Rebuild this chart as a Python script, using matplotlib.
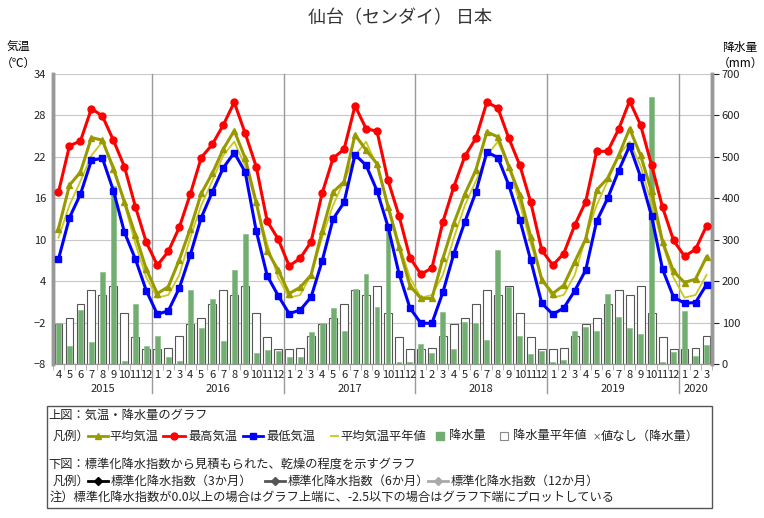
import numpy as np
import matplotlib
matplotlib.use('Agg')
import matplotlib.pyplot as plt
from matplotlib.patches import Rectangle

plt.rcParams['font.family'] = ['Noto Sans CJK JP', 'DejaVu Sans']

# 2015年4月〜2020年3月 仙台の月別値
months = [4, 5, 6, 7, 8, 9, 10, 11, 12] + list(range(1, 13)) * 4 + [1, 2, 3]
years = ['2015', '2016', '2017', '2018', '2019', '2020']
year_months = [9, 12, 12, 12, 12, 3]  # 各年の月数

t_mean = [11.6, 17.9, 19.8, 24.8, 24.4, 20.3, 15.5, 10.7, 5.7,
          2.2, 3.2, 7.1, 11.6, 16.7, 19.6, 23.1, 25.8, 21.8, 15.4, 8.4, 5.6,
          2.2, 3.1, 4.9, 11.2, 16.9, 18.4, 25.2, 23.0, 21.0, 14.8, 9.0, 3.3,
          1.5, 1.5, 7.3, 12.4, 16.6, 20.1, 25.6, 24.9, 20.6, 16.5, 10.4, 4.2,
          2.2, 3.4, 6.8, 10.1, 17.2, 18.9, 22.2, 26.1, 22.2, 17.0, 9.7, 5.4,
          3.8, 4.3, 7.5]
t_max = [16.9, 23.6, 24.3, 29.0, 27.9, 24.4, 20.6, 14.8, 9.6,
         6.3, 8.3, 11.8, 16.6, 21.9, 23.8, 26.6, 29.9, 25.4, 20.6, 12.7, 10.1,
         6.2, 7.3, 9.7, 16.7, 21.8, 23.1, 29.4, 26.1, 25.7, 18.6, 13.5, 7.4,
         5.0, 5.9, 12.6, 17.7, 22.1, 24.7, 29.9, 29.1, 24.7, 20.8, 15.4, 8.5,
         6.3, 8.0, 12.1, 15.5, 22.8, 22.8, 26.0, 30.1, 26.6, 20.8, 14.7, 9.9,
         7.6, 8.6, 12.0]
t_min = [7.2, 13.2, 16.6, 21.5, 21.8, 17.1, 11.1, 7.2, 2.6,
         -0.8, -0.3, 3.0, 7.8, 13.2, 16.9, 20.4, 22.6, 19.8, 11.3, 4.8, 1.9,
         -0.7, -0.2, 1.7, 6.9, 13.0, 15.4, 22.3, 20.8, 17.1, 11.9, 5.1, 0.1,
         -2.1, -2.1, 2.4, 8.0, 12.6, 16.9, 22.7, 21.9, 17.9, 12.9, 7.0, 0.8,
         -0.8, 0.1, 2.6, 5.6, 12.7, 16.0, 20.0, 23.6, 19.1, 13.4, 5.7, 1.7,
         0.8, 0.9, 3.5]
precip = [98, 44, 131, 52, 221, 430, 8, 145, 44,
          68, 18, 8, 179, 87, 157, 56, 227, 314, 27, 34, 32,
          18, 16, 78, 98, 135, 80, 181, 217, 137, 330, 6, 4,
          48, 26, 125, 36, 102, 98, 59, 274, 187, 68, 24, 31,
          4, 10, 80, 90, 80, 169, 113, 88, 72, 645, 4, 28,
          127, 20, 47]

# 平年値（1月〜12月）
normal_temp = [1.6, 2.0, 4.9, 10.3, 15.0, 18.5, 22.2, 24.2, 20.7, 15.2, 9.4, 4.5]
normal_prec = [37.0, 38.4, 68.2, 97.6, 109.9, 145.6, 179.4, 166.9, 187.5, 122.0, 65.1, 36.6]

x = np.arange(len(months))
t_norm = [normal_temp[m - 1] for m in months]
p_norm = [normal_prec[m - 1] for m in months]

fig = plt.figure(figsize=(7.64, 5.18), dpi=100)
ax = fig.add_axes([53 / 764, 1 - 364 / 518, 659 / 764, 290 / 518])
axp = ax.twinx()
ax.set_zorder(axp.get_zorder() + 1)
ax.patch.set_visible(False)

# 降水量（右軸）
axp.bar(x, p_norm, width=0.72, color='white', edgecolor='#555555', linewidth=0.8, zorder=2)
axp.bar(x, precip, width=0.45, color='#72ad72', edgecolor='#8cbf8c', linewidth=0.5, zorder=3)
axp.set_ylim(0, 700)
axp.set_yticks(range(0, 701, 100))
axp.grid(axis='y', color='#c8c8c8', linewidth=0.8, zorder=0)
axp.set_axisbelow(True)

# 気温（左軸）
ax.plot(x, t_norm, color='#c8c820', linewidth=1.3, zorder=3)
ax.plot(x, t_mean, color='#999900', linewidth=2.2, marker='^', markersize=5, zorder=4)
ax.plot(x, t_max, color='#ff0000', linewidth=2.2, marker='o', markersize=5, zorder=5)
ax.plot(x, t_min, color='#0000ff', linewidth=2.2, marker='s', markersize=5, zorder=5)
ax.set_ylim(-8, 34)
ax.set_yticks(range(-8, 35, 6))
ax.set_xlim(-0.5, len(months) - 0.5)

for a in (ax, axp):
    a.spines['top'].set_visible(False)
    a.spines['left'].set_color('#999999')
    a.spines['right'].set_color('#999999')
    a.spines['left'].set_linewidth(2.5)
    a.spines['right'].set_linewidth(2.5)
    a.spines['bottom'].set_color('#999999')
ax.tick_params(axis='y', labelsize=8, length=0, pad=5, colors='#222222')
axp.tick_params(axis='y', labelsize=8, length=5, pad=2, colors='#222222', direction='out')

ax.set_xticks(x)
ax.set_xticklabels([str(m) for m in months], fontsize=8)
ax.tick_params(axis='x', length=0, pad=4, colors='#222222')
ax.set_xticks(np.arange(-0.5, len(months), 1), minor=True)
ax.tick_params(axis='x', which='minor', length=4, color='#aaaaaa')

# 年の区切りと年ラベル
start = 0
for yr, n in zip(years, year_months):
    ax.text(start + (n - 1) / 2, -0.085, yr, transform=ax.get_xaxis_transform(),
            ha='center', va='center', fontsize=8, color='#222222')
    if start > 0:
        ax.axvline(start - 0.5, ymin=-0.1, ymax=1, color='#999999', linewidth=1,
                   clip_on=False, zorder=1)
    start += n

# タイトル・軸ラベル
fig.text(400 / 764, 1 - 18 / 518, '仙台（センダイ） 日本', ha='center', va='center',
         fontsize=13, color='#333333')
fig.text(18 / 764, 1 - 47 / 518, '気温', ha='center', va='center', fontsize=8.5)
fig.text(18 / 764, 1 - 63 / 518, '（℃）', ha='center', va='center', fontsize=8.5)
fig.text(740 / 764, 1 - 47 / 518, '降水量', ha='center', va='center', fontsize=8.5)
fig.text(740 / 764, 1 - 63 / 518, '（mm）', ha='center', va='center', fontsize=8.5)

# 下部の説明枠
leg = fig.add_axes([0, 0, 1, 1])
leg.set_xlim(0, 764)
leg.set_ylim(518, 0)
leg.axis('off')
leg.add_patch(Rectangle((47, 406), 665, 102, fill=False, edgecolor='#555555', linewidth=1))

fs = 8.8
tc = '#222222'
leg.text(48, 415, '上図：気温・降水量のグラフ', fontsize=fs, va='center', color=tc)
y2 = 436
leg.text(53, y2, '凡例）', fontsize=fs, va='center', color=tc)
leg.plot([88, 108], [y2, y2], color='#999900', linewidth=2)
leg.plot([98], [y2], color='#999900', marker='^', markersize=5)
leg.text(109, y2, '平均気温', fontsize=fs, va='center', color=tc)
leg.plot([163, 185], [y2, y2], color='#ff0000', linewidth=2)
leg.plot([174], [y2], color='#ff0000', marker='o', markersize=5)
leg.text(188, y2, '最高気温', fontsize=fs, va='center', color=tc)
leg.plot([243, 263], [y2, y2], color='#0000ff', linewidth=2)
leg.plot([253], [y2], color='#0000ff', marker='s', markersize=5)
leg.text(266, y2, '最低気温', fontsize=fs, va='center', color=tc)
leg.plot([331, 338], [y2, y2], color='#c8c820', linewidth=1.3)
leg.text(340, y2, '平均気温平年値', fontsize=fs, va='center', color=tc)
leg.add_patch(Rectangle((436, y2 - 4), 8, 8, color='#72ad72'))
leg.text(449, y2, '降水量', fontsize=fs, va='center', color=tc)
leg.add_patch(Rectangle((500, y2 - 4), 8, 8, facecolor='white', edgecolor='#888888', linewidth=0.8))
leg.text(513, y2, '降水量平年値', fontsize=fs, va='center', color=tc)
leg.text(593, y2 + 1, '×', fontsize=6, va='center', color=tc)
leg.text(601, y2, '値なし（降水量）', fontsize=fs, va='center', color=tc)

leg.text(48, 464, '下図：標準化降水指数から見積もられた、乾燥の程度を示すグラフ',
         fontsize=fs, va='center', color=tc)
y4 = 481
leg.text(53, y4, '凡例）', fontsize=fs, va='center', color=tc)
for x0, col, lbl in [(88, '#000000', '標準化降水指数（3か月）'),
                     (265, '#555555', '標準化降水指数（6か月）'),
                     (428, '#aaaaaa', '標準化降水指数（12か月）')]:
    leg.plot([x0, x0 + 20], [y4, y4], color=col, linewidth=2)
    leg.plot([x0 + 10], [y4], color=col, marker='D', markersize=4)
    leg.text(x0 + 23, y4, lbl, fontsize=fs, va='center', color=tc)
leg.text(50, 497, '注）標準化降水指数が0.0以上の場合はグラフ上端に、-2.5以下の場合はグラフ下端にプロットしている',
         fontsize=fs, va='center', color=tc)

fig.savefig('out.png', dpi=100)
